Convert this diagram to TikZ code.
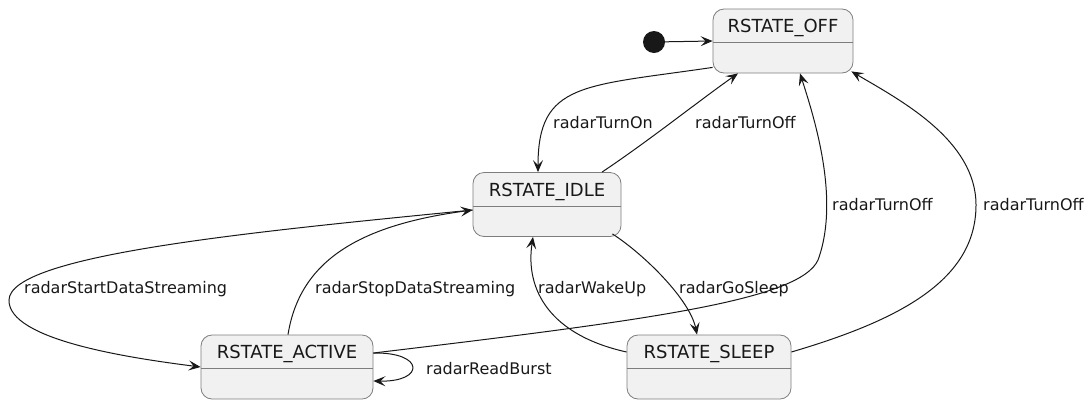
\documentclass[tikz,border=0pt]{standalone}
\usepackage{fontspec}
\setmainfont{DejaVu Sans}
\usetikzlibrary{arrows.meta}
\usetikzlibrary{calc}
\definecolor{stfill}{RGB}{241,241,241}
\definecolor{stline}{RGB}{125,125,125}
\definecolor{edge}{RGB}{24,24,24}
% state box: name, x, y, width, title
\newcommand\rst[5]{
  \node[draw=stline, fill=stfill, rounded corners=11pt, line width=0.8pt, minimum width=#4pt, minimum height=64pt, inner sep=0pt] (#1) at (#2,#3) {};
  \draw[stline, line width=0.8pt] ([yshift=-34pt]#1.north west) -- ([yshift=-34pt]#1.north east);
  \node[anchor=base, inner sep=0pt, text=edge, font=\fontsize{18}{21}\selectfont] (#1t) at ([yshift=-24pt]#1.north) {#5};
}

\begin{document}
\begin{tikzpicture}[x=1pt, y=-1pt,
  tr/.style={-{Stealth[length=12pt,width=10pt,inset=5pt]}, draw=edge, line width=1pt},
  lbl/.style={anchor=base west, inner sep=0pt, text=edge, font=\fontsize{16}{19}\selectfont}]
\useasboundingbox (0,0) rectangle (1091,400);

\rst{off}{783}{41}{140}{RSTATE\_OFF};
\rst{idle}{547}{204.5}{148}{RSTATE\_IDLE};
\rst{active}{287}{367}{172}{RSTATE\_ACTIVE};
\rst{sleep}{709}{367}{164}{RSTATE\_SLEEP};

\node[circle, fill=edge, inner sep=0pt, minimum size=22pt] (init) at (654,42) {};
\draw[tr] (init) -- (off.west);

% off <-> idle
\draw[tr] ([yshift=6pt]off.south west) .. controls (583,86.5) and (538,82) .. ([xshift=-9pt]idle.north);
\draw[tr] ([xshift=55pt]idle.north) .. controls (650,140) and (700,100) .. ([xshift=-45pt]off.south);
\node[lbl] (ton) at (553,128) {radarTurnOn};
\node[lbl] (toff1) at (695,128) {radarTurnOff};

% idle <-> active
\draw[tr] ([yshift=-5.5pt]idle.west) .. controls (250,232) and (10,255) .. (9,300)
  .. controls (8,340) and (130,358) .. (active.west);
\draw[tr] ([xshift=1pt]active.north) .. controls (300,260) and (360,225) .. ([yshift=-5.5pt]idle.west);
\node[lbl] (start) at (24,293) {radarStartDataStreaming};
\node[lbl] (stop) at (315,293) {radarStopDataStreaming};

% idle <-> sleep
\draw[tr] ([xshift=-9pt,yshift=3pt]idle.south east) .. controls (645,255) and (690,300) .. ([xshift=-12pt]sleep.north);
\draw[tr] ([yshift=15pt]sleep.west) .. controls (550,335) and (525,290) .. ([xshift=-14pt]idle.south);
\node[lbl] (wake) at (538,293) {radarWakeUp};
\node[lbl] (gosleep) at (679,293) {radarGoSleep};

% back to off
\draw[tr] ([yshift=14pt]active.east) .. controls (650,320) and (800,300) .. (818,260)
  .. controls (840,200) and (815,120) .. ([xshift=17pt]off.south);
\draw[tr] ([yshift=15pt]sleep.east) .. controls (900,320) and (976,280) .. (976,205)
  .. controls (976,140) and (900,100) .. ([xshift=-2pt,yshift=2pt]off.south east);
\node[lbl] (toff2) at (832,210) {radarTurnOff};
\node[lbl] (toff3) at (983,210) {radarTurnOff};

% self loop
\draw[tr] ([yshift=14pt]active.east) .. controls (425,352) and (425,382) .. ([yshift=-14pt]active.east);
\node[lbl] (burst) at (426,374) {radarReadBurst};
\end{tikzpicture}
\end{document}
